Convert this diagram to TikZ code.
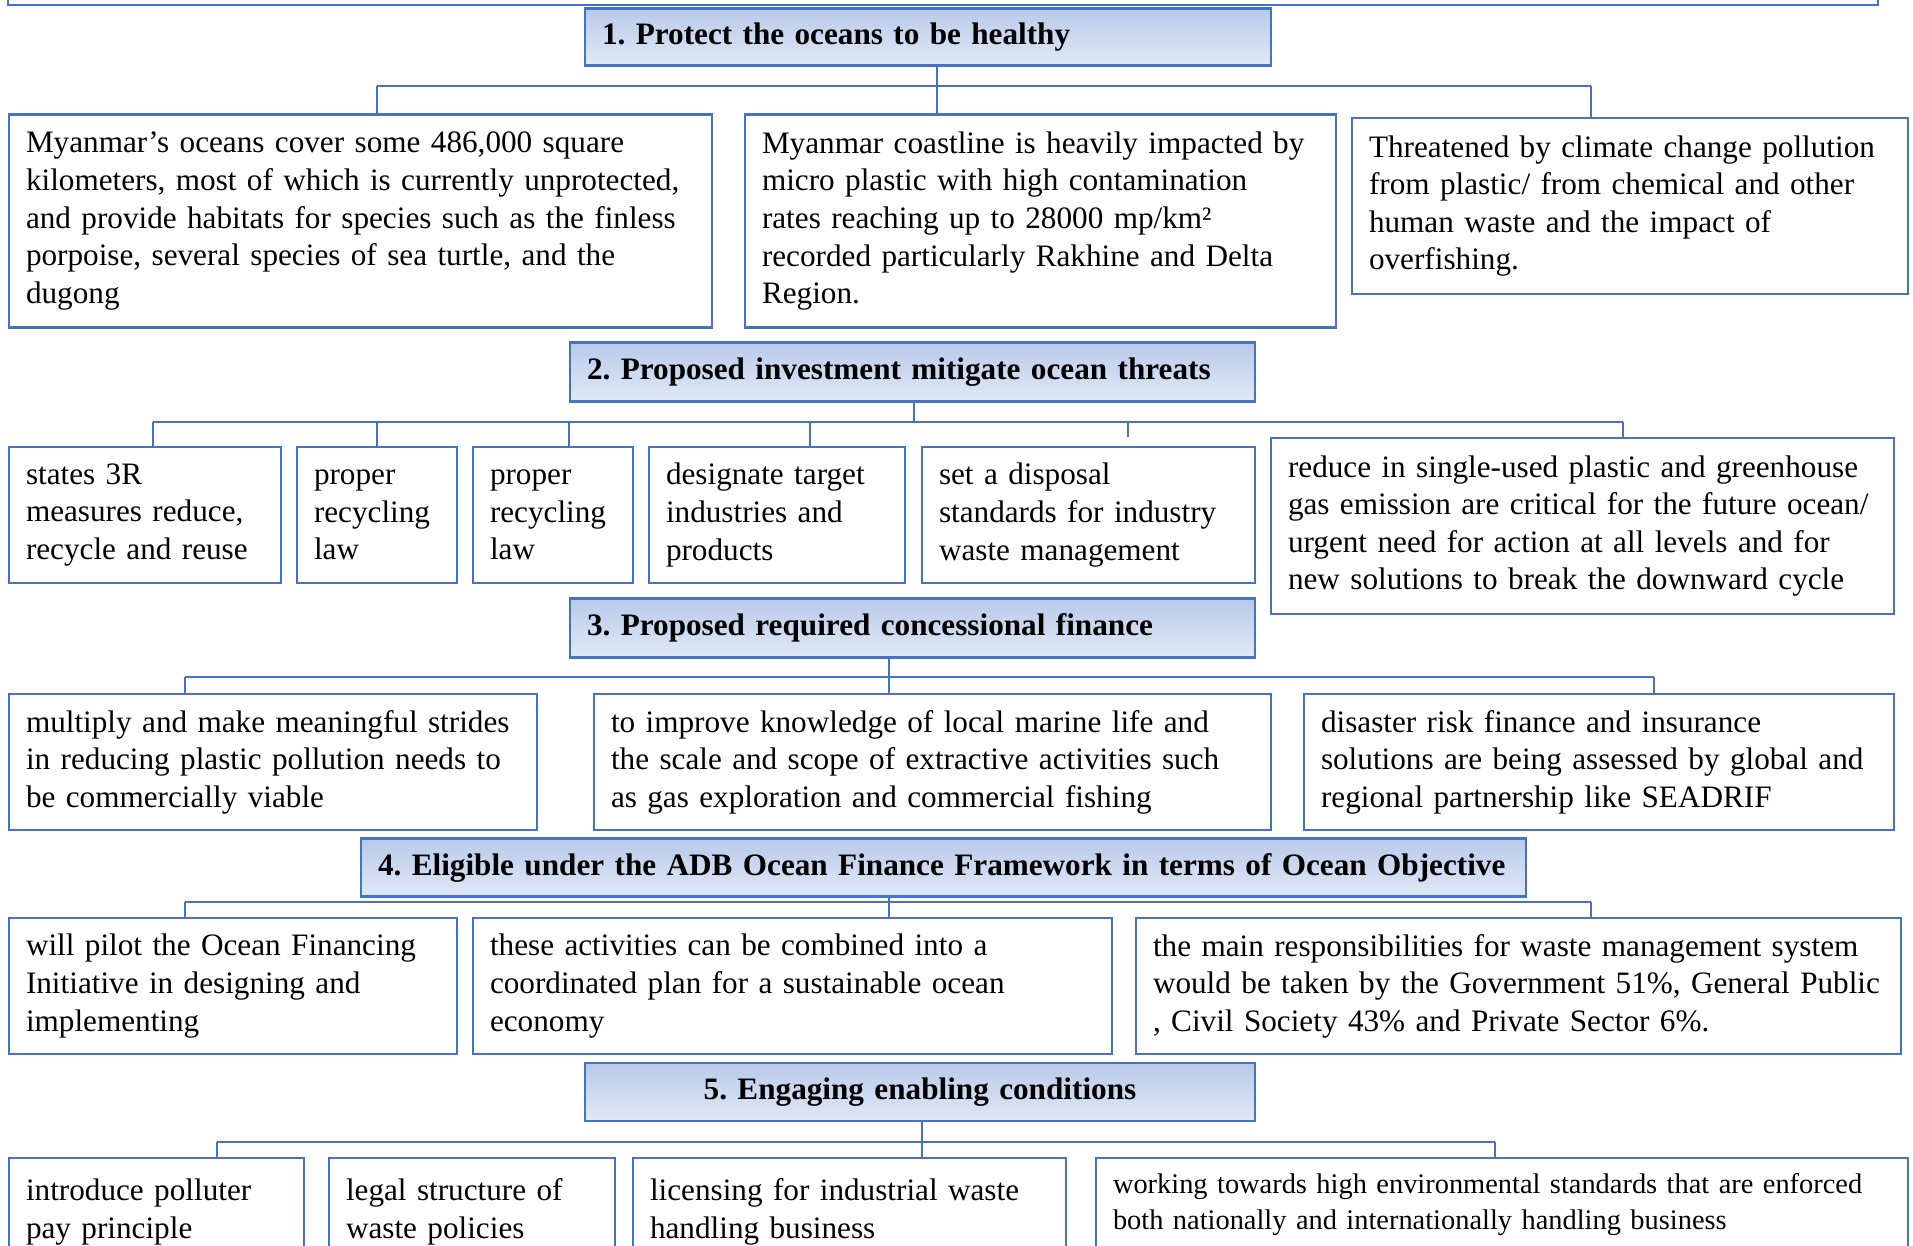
\documentclass[tikz,border=0pt]{standalone}
\usepackage{fontspec}
\setmainfont{Liberation Serif}
\usepackage{tikz}
\usepackage{xcolor}
\definecolor{boxblue}{RGB}{68,114,196}
\definecolor{headtop}{RGB}{184,202,234}
\definecolor{headbot}{RGB}{224,232,246}
\hyphenpenalty=10000
\exhyphenpenalty=10000

\begin{document}
\frenchspacing
\begin{tikzpicture}[
  x=0.5pt, y=-0.5pt,
  font=\fontsize{15.6}{18.8}\selectfont,
  blk/.style={draw=boxblue, line width=1.2pt, fill=white, inner xsep=8.5pt, inner ysep=0pt, align=left},
  head/.style={draw=boxblue, line width=1.2pt, top color=headtop, bottom color=headbot,
    inner xsep=8.5pt, inner ysep=0pt, align=left, font=\fontsize{15.6}{18.8}\selectfont\bfseries},
  conn/.style={draw=boxblue, line width=0.8pt},
]
\clip (0,0) rectangle (1913,1246);
% previous frame (cut off)
\draw[boxblue, line width=1.2pt] (8,-40) rectangle (1878,5);

% Level 1
\node[head, minimum width=343pt, text width=326pt, minimum height=28.5pt] (h1) at (928,37)
  {1. Protect the oceans to be healthy};
\node[blk, minimum width=351.5pt, text width=334.5pt, minimum height=106.5pt] (b1a) at (360.5,221)
  {Myanmar’s oceans cover some 486,000 square\\kilometers, most of which is currently unprotected,\\and provide habitats for species such as the finless\\porpoise, several species of sea turtle, and the\\dugong};
\node[blk, minimum width=295.5pt, text width=278.5pt, minimum height=106.5pt] (b1b) at (1040.5,221)
  {Myanmar coastline is heavily impacted by\\micro plastic with high contamination\\rates reaching up to 28000 mp/km²\\recorded particularly Rakhine and Delta\\Region.};
\node[blk, minimum width=278pt, text width=261pt, minimum height=88pt] (b1c) at (1630,206)
  {Threatened by climate change pollution\\from plastic/ from chemical and other\\human waste and the impact of\\overfishing.};
\coordinate (t1) at (937,86);
\coordinate (l1) at (377,86);
\coordinate (r1) at (1591,86);
\draw[conn] (h1.south -| t1) -- (t1 |- b1b.north);
\draw[conn] (l1) -- (r1);
\draw[conn] (l1) -- (l1 |- b1a.north);
\draw[conn] (r1) -- (r1 |- b1c.north);

% Level 2
\node[head, minimum width=342.5pt, text width=325.5pt, minimum height=29.5pt] (h2) at (912.5,372)
  {2. Proposed investment mitigate ocean threats};
\node[blk, minimum width=136pt, text width=119pt, minimum height=68pt] (b2a) at (145,515)
  {states 3R\\measures reduce,\\recycle and reuse};
\node[blk, minimum width=80pt, text width=63pt, minimum height=68pt] (b2b) at (377,515)
  {proper\\recycling\\law};
\node[blk, minimum width=80pt, text width=63pt, minimum height=68pt] (b2c) at (553,515)
  {proper\\recycling\\law};
\node[blk, minimum width=128pt, text width=111pt, minimum height=68pt] (b2d) at (777,515)
  {designate target\\industries and\\products};
\node[blk, minimum width=166.5pt, text width=149.5pt, minimum height=68pt] (b2e) at (1088.5,515)
  {set a disposal\\standards for industry\\waste management};
\node[blk, minimum width=311.5pt, text width=294.5pt, minimum height=88pt] (b2f) at (1582.5,526)
  {reduce in single-used plastic and greenhouse\\gas emission are critical for the future ocean/\\urgent need for action at all levels and for\\new solutions to break the downward cycle};
\coordinate (t2) at (914,422);
\coordinate (s2a) at (153,422);
\coordinate (s2b) at (377,422);
\coordinate (s2c) at (569,422);
\coordinate (s2d) at (810,422);
\coordinate (s2e) at (1128,422);
\coordinate (s2f) at (1623,422);
\draw[conn] (h2.south -| t2) -- (t2);
\draw[conn] (s2a) -- (s2f);
\draw[conn] (s2a) -- (s2a |- b2a.north);
\draw[conn] (s2b) -- (s2b |- b2b.north);
\draw[conn] (s2c) -- (s2c |- b2c.north);
\draw[conn] (s2d) -- (s2d |- b2d.north);
\draw[conn] (s2e) -- (s2e |- b2f.north);
\draw[conn] (s2f) -- (s2f |- b2f.north);

% Level 3
\node[head, minimum width=342.5pt, text width=325.5pt, minimum height=29.5pt] (h3) at (912.5,628)
  {3. Proposed required concessional finance};
\node[blk, minimum width=264pt, text width=247pt, minimum height=68pt] (b3a) at (273,762)
  {multiply and make meaningful strides\\in reducing plastic pollution needs to\\be commercially viable};
\node[blk, minimum width=338.5pt, text width=321.5pt, minimum height=68pt] (b3b) at (932.5,762)
  {to improve knowledge of local marine life and\\the scale and scope of extractive activities such\\as gas exploration and commercial fishing};
\node[blk, minimum width=295pt, text width=278pt, minimum height=68pt] (b3c) at (1599,762)
  {disaster risk finance and insurance\\solutions are being assessed by global and\\regional partnership like SEADRIF};
\coordinate (t3) at (889,677);
\coordinate (l3) at (185,677);
\coordinate (r3) at (1654,677);
\draw[conn] (h3.south -| t3) -- (t3 |- b3b.north);
\draw[conn] (l3) -- (r3);
\draw[conn] (l3) -- (l3 |- b3a.north);
\draw[conn] (r3) -- (r3 |- b3c.north);

% Level 4
\node[head, minimum width=582.5pt, text width=565.5pt, minimum height=29pt] (h4) at (943.5,867.5)
  {4. Eligible under the ADB Ocean Finance Framework in terms of Ocean Objective};
\node[blk, minimum width=224pt, text width=207pt, minimum height=68pt] (b4a) at (233,986)
  {will pilot the Ocean Financing\\Initiative in designing and\\implementing};
\node[blk, minimum width=319.5pt, text width=302.5pt, minimum height=68pt] (b4b) at (792.5,986)
  {these activities can be combined into a\\coordinated plan for a sustainable ocean\\economy};
\node[blk, minimum width=382.5pt, text width=365.5pt, minimum height=68pt] (b4c) at (1518.5,986)
  {the main responsibilities for waste management system\\would be taken by the Government 51\%, General Public\\, Civil Society 43\% and Private Sector 6\%.};
\coordinate (t4) at (889,902);
\coordinate (l4) at (185,902);
\coordinate (r4) at (1591,902);
\draw[conn] (h4.south -| t4) -- (t4 |- b4b.north);
\draw[conn] (l4) -- (r4);
\draw[conn] (l4) -- (l4 |- b4a.north);
\draw[conn] (r4) -- (r4 |- b4c.north);

% Level 5
\node[head, minimum width=335pt, text width=318pt, minimum height=29pt, align=center] (h5) at (920,1092)
  {5. Engaging enabling conditions};
\node[blk, minimum width=147.5pt, text width=130.5pt, minimum height=54pt] (b5a) at (156.5,1212)
  {introduce polluter\\pay principle};
\node[blk, minimum width=143pt, text width=126pt, minimum height=54pt] (b5b) at (472,1212)
  {legal structure of\\waste policies};
\node[blk, minimum width=216.5pt, text width=199.5pt, minimum height=54pt] (b5c) at (849.5,1212)
  {licensing for industrial waste\\handling business};
\node[blk, minimum width=406pt, text width=389pt, minimum height=47pt, font=\fontsize{14.2}{18}\selectfont] (b5d) at (1502,1205)
  {working towards high environmental standards that are enforced\\both nationally and internationally handling business};
\coordinate (t5) at (922,1142);
\coordinate (l5) at (217,1142);
\coordinate (r5) at (1495,1142);
\draw[conn] (h5.south -| t5) -- (t5 |- b5c.north);
\draw[conn] (l5) -- (r5);
\draw[conn] (l5) -- (l5 |- b5a.north);
\draw[conn] (r5) -- (r5 |- b5d.north);
\end{tikzpicture}
\end{document}
